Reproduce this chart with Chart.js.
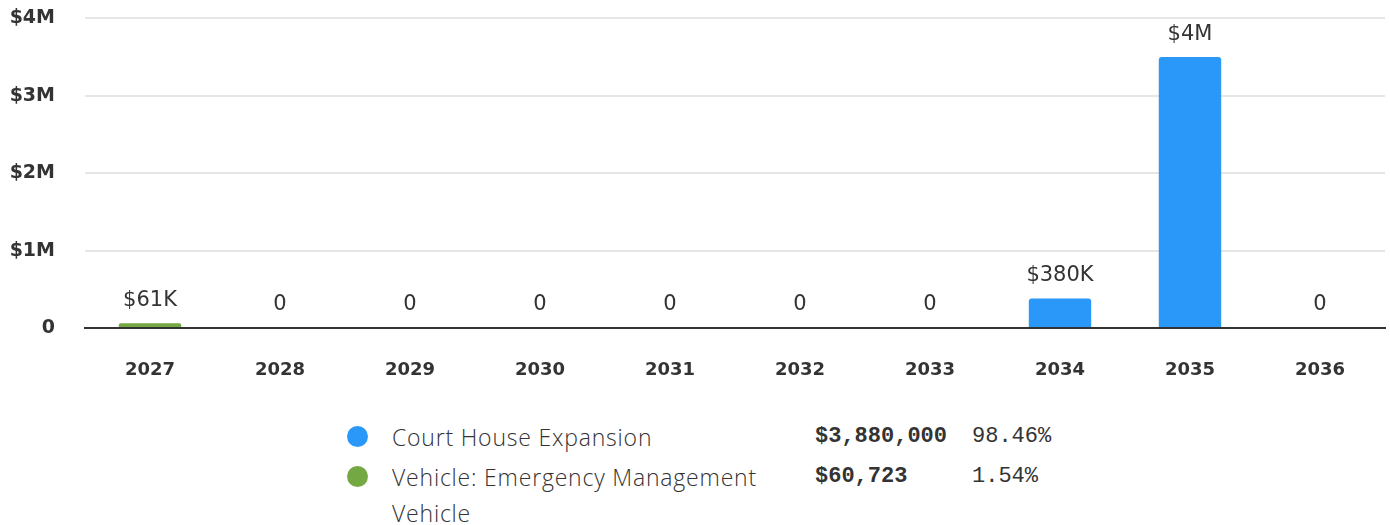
<!DOCTYPE html>
<html>
<head>
<meta charset="utf-8">
<script src="https://cdn.jsdelivr.net/npm/chart.js@4.4.0/dist/chart.umd.min.js"></script>
<style>
  body { margin: 0; background: #fff; font-family: "DejaVu Sans", sans-serif; }
  #wrap { position: relative; width: 1390px; height: 390px; overflow: hidden; }
  #myChart { position: absolute; left: 0; top: -23px; }
  #legend { position: absolute; left: 347px; top: 419px; color: #333; }
  .row { display: flex; align-items: flex-start; margin-bottom: 4px; }
  .dot { width: 21px; height: 21px; border-radius: 50%; margin-top: 7px; margin-right: 24px; flex: none; }
  .name { width: 400px; margin-right: 23px; font-family: "Open Sans", sans-serif; font-weight: 300; font-size: 23px; letter-spacing: 0.8px; line-height: 36px; }
  .val { width: 157px; font-family: "Liberation Mono", monospace; font-weight: 700; font-size: 22px; line-height: 36px; }
  .pct { font-family: "Liberation Mono", monospace; font-size: 22px; line-height: 36px; }
</style>
</head>
<body>
<div id="wrap"><canvas id="myChart"></canvas></div>
<div id="legend"></div>
<script>
// years on the x axis
const years = ["2027", "2028", "2029", "2030", "2031", "2032", "2033", "2034", "2035", "2036"];
// spending per project per year
const courtHouse = [0, 0, 0, 0, 0, 0, 0, 380000, 3500000, 0];
const emergencyVehicle = [60723, 0, 0, 0, 0, 0, 0, 0, 0, 0];
const projectNames = ["Court House Expansion", "Vehicle: Emergency Management Vehicle"];
const projectTotals = ["$3,880,000", "$60,723"];
const projectShares = ["98.46%", "1.54%"];
const projectColors = ["#2a98f9", "#74a843"];

const compact = new Intl.NumberFormat("en-US", {
  notation: "compact", style: "currency", currency: "USD", maximumFractionDigits: 0
});
function money(v) {
  if (v === 0) return "0";
  return compact.format(v);
}

// total above every stack
const totalLabels = {
  id: "totalLabels",
  afterDatasetsDraw(chart) {
    const ctx = chart.ctx;
    const yScale = chart.scales.y;
    const meta = chart.getDatasetMeta(0);
    ctx.save();
    ctx.font = "21px 'DejaVu Sans'";
    ctx.fillStyle = "#333";
    ctx.textAlign = "center";
    ctx.textBaseline = "middle";
    years.forEach((y, i) => {
      let total = 0;
      chart.data.datasets.forEach((ds) => { total += ds.data[i]; });
      const x = meta.data[i].x;
      const top = yScale.getPixelForValue(total);
      ctx.fillText(money(total), x, top - 23);
    });
    ctx.restore();
  },
};

const data = {
  labels: years,
  datasets: [
    {
      label: projectNames[0],
      data: courtHouse,
      backgroundColor: projectColors[0],
      borderRadius: 3,
      barPercentage: 0.48,
      categoryPercentage: 1,
    },
    {
      label: projectNames[1],
      data: emergencyVehicle,
      backgroundColor: projectColors[1],
      borderRadius: 3,
      barPercentage: 0.48,
      categoryPercentage: 1,
    },
  ],
};

const config = {
  type: "bar",
  data: data,
  plugins: [totalLabels],
  options: {
    responsive: false,
    animation: false,
    layout: { padding: { top: 0, right: 5, left: 0, bottom: 0 } },
    plugins: { legend: { display: false }, tooltip: { enabled: false } },
    scales: {
      x: {
        stacked: true,
        grid: { display: false, drawTicks: false },
        border: { color: "#333", width: 2 },
        ticks: { color: "#333", font: { family: "DejaVu Sans", size: 18, weight: "bold" }, padding: 32 },
        afterFit(scale) { scale.height = 62; },
      },
      y: {
        stacked: true,
        min: 0,
        max: 4000000,
        grid: { color: "#e6e6e6", lineWidth: 2, drawTicks: false },
        border: { display: false },
        ticks: {
          stepSize: 1000000,
          color: "#333",
          padding: 30,
          font: { family: "DejaVu Sans", size: 19, weight: "bold" },
          callback: (v) => money(v),
        },
        afterFit(scale) { scale.width = 85; },
      },
    },
  },
};

const cv = document.getElementById("myChart");
cv.width = 1390;
cv.height = 413;
new Chart(cv, config);

// custom legend with totals
const legend = document.getElementById("legend");
projectNames.forEach((name, i) => {
  const row = document.createElement("div");
  row.className = "row";
  row.innerHTML =
    '<span class="dot" style="background:' + projectColors[i] + '"></span>' +
    '<span class="name">' + name + '</span>' +
    '<span class="val">' + projectTotals[i] + '</span>' +
    '<span class="pct">' + projectShares[i] + '</span>';
  legend.appendChild(row);
});
</script>
</body>
</html>
